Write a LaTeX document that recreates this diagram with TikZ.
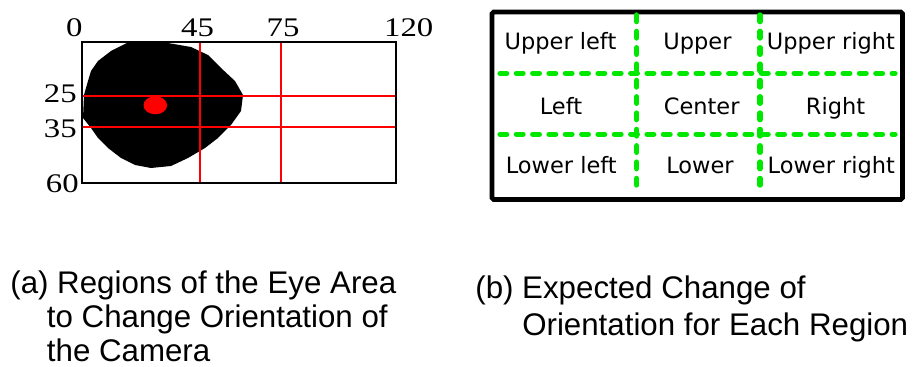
\documentclass[tikz,border=0pt]{standalone}
\usepackage{fontspec}
\setmainfont{Liberation Sans}
\newfontfamily\numfont[FakeStretch=1.22]{Liberation Serif}
\newfontfamily\gridfont{DejaVu Sans}
\definecolor{gridgreen}{RGB}{0,232,0}

\begin{document}
\begin{tikzpicture}[x=0.02cm,y=-0.02cm,
	num/.style={font=\numfont\fontsize{15.3}{16}\selectfont,inner sep=0pt},
	region/.style={font=\gridfont\fontsize{12.8}{14}\selectfont,inner sep=0pt,anchor=base},
	caption/.style={font=\fontsize{17.8}{19.6}\selectfont,align=left,inner sep=0pt,anchor=base west},
	guide/.style={draw=gridgreen,line width=3pt,line cap=round,dash pattern=on 3.8pt off 5.5pt}]
	
	\useasboundingbox (0,0) rectangle (920,367);
	
	% (a) eye area with its regions
	\fill[black] (127,43) -- (111,51) -- (98,61) -- (91,71) -- (88,81) -- (84,95)
	  -- (83,118) -- (91,128) -- (98,138) -- (108,148) -- (121,158) -- (135,165)
	  -- (151,168) -- (171,166) -- (188,158) -- (205,148) -- (218,138) -- (231,125)
	  -- (241,111) -- (243,95) -- (235,81) -- (221,68) -- (208,55) -- (191,47)
	  -- (168,43) -- cycle;
	\fill[red] (155.3,105.3) ellipse [x radius=11.8, y radius=9];
	
	\draw[red,line width=1pt] (82,96) -- (396,96);
	\draw[red,line width=1pt] (82,127) -- (396,127);
	\draw[red,line width=1pt] (200,42) -- (200,183);
	\draw[red,line width=1pt] (281,42) -- (281,183);
	\draw[line width=1pt] (82,42) rectangle (396,183);
	
	\node[num,anchor=base] (x0) at (74.3,37) {0};
	\node[num,anchor=base] (x45) at (197.5,37) {45};
	\node[num,anchor=base] (x75) at (283,37) {75};
	\node[num,anchor=base] (x120) at (408.7,37) {120};
	\node[num,anchor=base east] (y25) at (77,103) {25};
	\node[num,anchor=base east] (y35) at (77,138) {35};
	\node[num,anchor=base east] (y60) at (79,192.7) {60};
	
	% (b) expected change of orientation
	\draw[line width=2.8pt,rounded corners=1pt] (492,12) rectangle (902.5,199.5);
	\draw[guide] (636.7,15) -- (636.7,192.7);
	\draw[guide] (760,15) -- (760,192.7);
	\draw[guide] (500,73.3) -- (895,73.3);
	\draw[guide] (500,134.3) -- (895,134.3);
	
	\node[region] (ul) at (560.5,50) {Upper left};
	\node[region] (u) at (697.5,50) {Upper};
	\node[region] (ur) at (831,50) {Upper right};
	\node[region] (l) at (561,115) {Left};
	\node[region] (c) at (701.7,115) {Center};
	\node[region] (r) at (835.5,115) {Right};
	\node[region] (ll) at (561.3,174) {Lower left};
	\node[region] (lo) at (700,174) {Lower};
	\node[region] (lr) at (831.3,174) {Lower right};
	
	% captions (base = last line)
	\node[caption] (capa) at (10,362) {(a) Regions of the Eye Area\\
	  \hspace*{1.17em}to Change Orientation of\\
	  \hspace*{1.17em}the Camera};
	\node[caption] (capb) at (475,336) {(b) Expected Change of\\[2pt]
	  \hspace*{1.5em}Orientation for Each Region};
	
\end{tikzpicture}
\end{document}
